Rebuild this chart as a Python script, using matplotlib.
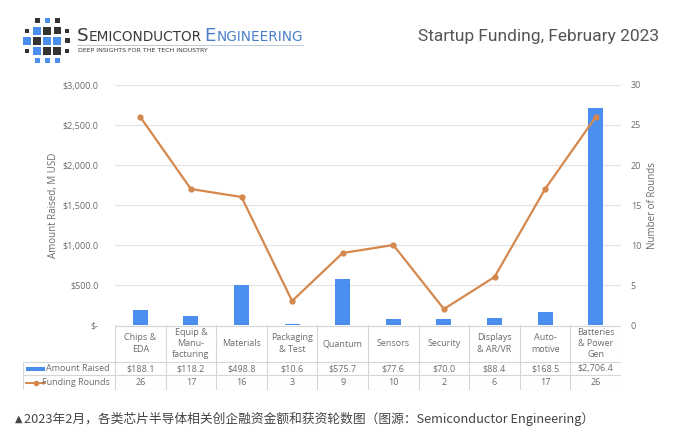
import matplotlib.pyplot as plt
import matplotlib.patches as mpatches
from matplotlib.lines import Line2D
import numpy as np

# data
categories = ["Chips &\nEDA", "Equip &\nManu-\nfacturing", "Materials", "Packaging\n& Test",
              "Quantum", "Sensors", "Security", "Displays\n& AR/VR", "Auto-\nmotive",
              "Batteries\n& Power\nGen"]
amount_raised = [188.1, 118.2, 498.8, 10.6, 575.7, 77.6, 70.0, 88.4, 168.5, 2706.4]
funding_rounds = [26, 17, 16, 3, 9, 10, 2, 6, 17, 26]
left_ticks = [0, 500, 1000, 1500, 2000, 2500, 3000]
right_ticks = [0, 5, 10, 15, 20, 25, 30]

BLUE = '#4a8ef0'
ORANGE = '#d4884e'
TXT = '#6b6b6b'
GRID = '#e3e3e3'

plt.rcParams['font.family'] = ['Open Sans', 'DejaVu Sans']

W, H = 687, 436
fig = plt.figure(figsize=(W / 100, H / 100), dpi=100)

def box(x0, y0, x1, y1):
    # pixel box (top-left origin) -> figure fraction rect
    return [x0 / W, 1 - y1 / H, (x1 - x0) / W, (y1 - y0) / H]

# main plot area
px_l, px_r, px_t, px_b = 115, 621, 85, 325
ax = fig.add_axes(box(px_l, px_t, px_r, px_b))
x = np.arange(len(categories))
ax.bar(x, amount_raised, width=0.3, color=BLUE, zorder=2)
ax.set_xlim(-0.5, len(categories) - 0.5)
ax.set_ylim(0, 3000)
ax.set_yticks(left_ticks)
ax.set_yticklabels(['$-' if v == 0 else '${:,.1f}'.format(v) for v in left_ticks])
ax.set_xticks([])
ax.grid(axis='y', color=GRID, linewidth=0.8, zorder=0)
ax.set_axisbelow(True)
for s in ax.spines.values():
    s.set_visible(False)
ax.tick_params(axis='y', length=0, pad=12, labelsize=6.5, labelcolor=TXT)
ax.set_ylabel('Amount Raised, M USD', fontsize=7, color=TXT, labelpad=2)

ax2 = ax.twinx()
ax2.plot(x, funding_rounds, color=ORANGE, linewidth=1.6, marker='o', markersize=3.5, zorder=3)
ax2.set_ylim(0, 30)
ax2.set_yticks(right_ticks)
for s in ax2.spines.values():
    s.set_visible(False)
ax2.tick_params(axis='y', length=0, pad=7, labelsize=6.5, labelcolor=TXT)
ax2.set_ylabel('Number of Rounds', fontsize=7, color=TXT, labelpad=4)

# data table under the plot
tb_l, tb_b = 23, 390
tax = fig.add_axes(box(tb_l, px_b, px_r, tb_b))
unit = (px_r - px_l) / len(categories)
xl = -0.5 - (px_l - tb_l) / unit
tax.set_xlim(xl, len(categories) - 0.5)
tax.set_ylim(tb_b - px_b, 0)
tax.axis('off')
r1, r2, r3 = 37, 50, 65
lc = dict(color='#d6d6d6', linewidth=0.8)
tax.plot([-0.5, len(categories) - 0.5], [0.5, 0.5], **lc)
for yy in (r1, r2, r3 - 0.5):
    tax.plot([xl, len(categories) - 0.5], [yy, yy], **lc)
tax.plot([xl, xl], [r1, r3], **lc)
for i in range(len(categories) + 1):
    tax.plot([i - 0.5, i - 0.5], [0, r3], **lc)

fs = 6.5
for i, c in enumerate(categories):
    tax.text(i, r1 / 2, c, ha='center', va='center', fontsize=fs, color=TXT, linespacing=1.3)
    tax.text(i, (r1 + r2) / 2, '${:,.1f}'.format(amount_raised[i]), ha='center', va='center',
             fontsize=fs, color=TXT)
    tax.text(i, (r2 + r3) / 2, str(funding_rounds[i]), ha='center', va='center',
             fontsize=fs, color=TXT)

lab_x = -0.5 - 5 / unit
tax.text(lab_x, (r1 + r2) / 2, 'Amount Raised', ha='right', va='center', fontsize=fs, color=TXT)
tax.text(lab_x, (r2 + r3) / 2, 'Funding Rounds', ha='right', va='center', fontsize=fs, color=TXT)
k0 = xl + 3 / unit
k1 = xl + 22 / unit
tax.add_patch(mpatches.Rectangle((k0, (r1 + r2) / 2 - 2), k1 - k0, 4, color=BLUE, lw=0))
tax.plot([k0, k1], [(r2 + r3) / 2] * 2, color=ORANGE, linewidth=1.4)
tax.plot([(k0 + k1) / 2], [(r2 + r3) / 2], color=ORANGE, marker='o', markersize=3)

# header: logo squares
lg = fig.add_axes(box(22, 16, 72, 66))
lg.set_xlim(0, 5)
lg.set_ylim(5, 0)
lg.axis('off')
D, B = '#333333', '#4a8ef0'
pattern = [
    [None, ('d', 0.5), ('b', 0.5), ('d', 0.5), None],
    [('d', 0.45), ('b', 0.8), ('d', 0.8), ('d', 0.7), ('d', 0.45)],
    [('b', 0.8), ('d', 0.8), ('b', 0.8), ('b', 0.8), ('d', 0.5)],
    [('d', 0.45), ('b', 0.8), ('d', 0.8), ('d', 0.8), ('d', 0.45)],
    [None, ('b', 0.5), ('b', 0.5), ('b', 0.5), None],
]
for r, row in enumerate(pattern):
    for cidx, cell in enumerate(row):
        if cell is None:
            continue
        col = D if cell[0] == 'd' else B
        s = cell[1]
        lg.add_patch(mpatches.Rectangle((cidx + 0.5 - s / 2, r + 0.5 - s / 2), s, s, color=col, lw=0))

# logo wordmark with small caps
fig.canvas.draw()
rend = fig.canvas.get_renderer()
xpos = 77
base_y = 1 - 41 / H
pieces = [('S', 13.2, '#3a3a3a'), ('EMICONDUCTOR', 9.8, '#3a3a3a'), (' ', 9.8, '#3a3a3a'),
          ('E', 13.2, '#4a7fc8'), ('NGINEERING', 9.8, '#4a7fc8')]
for txt, size, col in pieces:
    t = fig.text(xpos / W, base_y, txt, fontsize=size, color=col, family='DejaVu Sans',
                 va='baseline', ha='left')
    bb = t.get_window_extent(renderer=rend)
    xpos += bb.width if txt != ' ' else 3
fig.add_artist(Line2D([77 / W, xpos / W], [1 - 45 / H] * 2, color='#b5c0cf', linewidth=0.6))
fig.text(78 / W, 1 - 51 / H, 'DEEP INSIGHTS FOR THE TECH INDUSTRY', fontsize=4.5, color='#3a3a3a',
         va='center', ha='left', family='DejaVu Sans')

fig.text(659 / W, 1 - 37 / H, 'Startup Funding, February 2023', fontsize=12.5, color='#555555',
         ha='right', va='center', family=['Liberation Sans Narrow', 'Roboto', 'DejaVu Sans'])

# caption
fig.text(15 / W, 1 - 419 / H, '▲', fontsize=7, color='#444444', ha='left', va='center',
         family='DejaVu Sans')
fig.text(24 / W, 1 - 419 / H,
         '2023年2月，各类芯片半导体相关创企融资金额和获资轮数图（图源：Semiconductor Engineering）',
         fontsize=9.2, color='#444444', ha='left', va='center',
         family=['Noto Sans CJK SC', 'DejaVu Sans'])

fig.savefig('out.png', dpi=100)
